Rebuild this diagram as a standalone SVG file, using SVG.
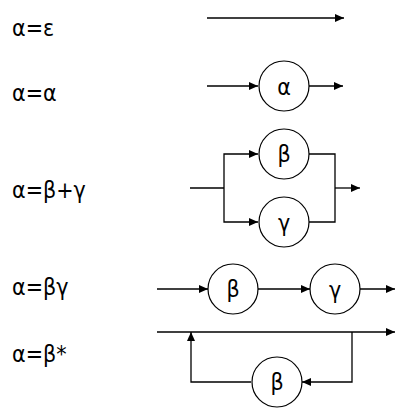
<svg xmlns="http://www.w3.org/2000/svg" width="401" height="417" viewBox="0 0 401 417">
<style>
text{font-family:"DejaVu Sans Condensed","DejaVu Sans",sans-serif;font-stretch:condensed;font-size:23px;fill:#000}
.n text{text-anchor:middle}
circle{fill:#fff;stroke:#000;stroke-width:1.2}
.c path,.c line{fill:none;stroke:#000;stroke-width:1.3}
.a{marker-end:url(#ah)}
</style>
<defs>
<marker id="ah" markerUnits="userSpaceOnUse" markerWidth="10" markerHeight="9" refX="9" refY="4" orient="auto">
<path d="M0,0 L9,4 L0,8 z" fill="#000"/>
</marker>
</defs>
<g id="labels">
<text x="12" y="36">α=ε</text>
<text x="12" y="101">α=α</text>
<text x="12" y="198">α=β+γ</text>
<text x="12" y="295">α=βγ</text>
<text x="12" y="362">α=β*</text>
</g>
<g id="connectors" class="c">
<line class="a" x1="207" y1="18" x2="344" y2="18"/>
<line class="a" x1="207" y1="86" x2="258" y2="86"/>
<line class="a" x1="309" y1="86" x2="343" y2="86"/>
<line x1="190" y1="188" x2="224" y2="188"/>
<path class="a" d="M224,188 V154 H258"/>
<path class="a" d="M224,188 V222 H258"/>
<path d="M309,154 H335 V222 H309"/>
<line class="a" x1="335" y1="188" x2="360" y2="188"/>
<line class="a" x1="157" y1="289" x2="208" y2="289"/>
<line class="a" x1="258" y1="289" x2="310" y2="289"/>
<line class="a" x1="360" y1="289" x2="395" y2="289"/>
<line class="a" x1="157" y1="332" x2="395" y2="332"/>
<path class="a" d="M352,332 V382 H302"/>
<path class="a" d="M251,382 H191 V332"/>
</g>
<g id="n-alpha" class="n"><circle cx="284" cy="86" r="25"/><text x="284" y="95">α</text></g>
<g id="n-beta1" class="n"><circle cx="284" cy="154" r="25"/><text x="284" y="162">β</text></g>
<g id="n-gamma1" class="n"><circle cx="284" cy="222" r="25"/><text x="284" y="231">γ</text></g>
<g id="n-beta2" class="n"><circle cx="233" cy="289" r="25"/><text x="233" y="297">β</text></g>
<g id="n-gamma2" class="n"><circle cx="335" cy="289" r="25"/><text x="335" y="298">γ</text></g>
<g id="n-beta3" class="n"><circle cx="277" cy="382" r="25"/><text x="277" y="390">β</text></g>
</svg>
